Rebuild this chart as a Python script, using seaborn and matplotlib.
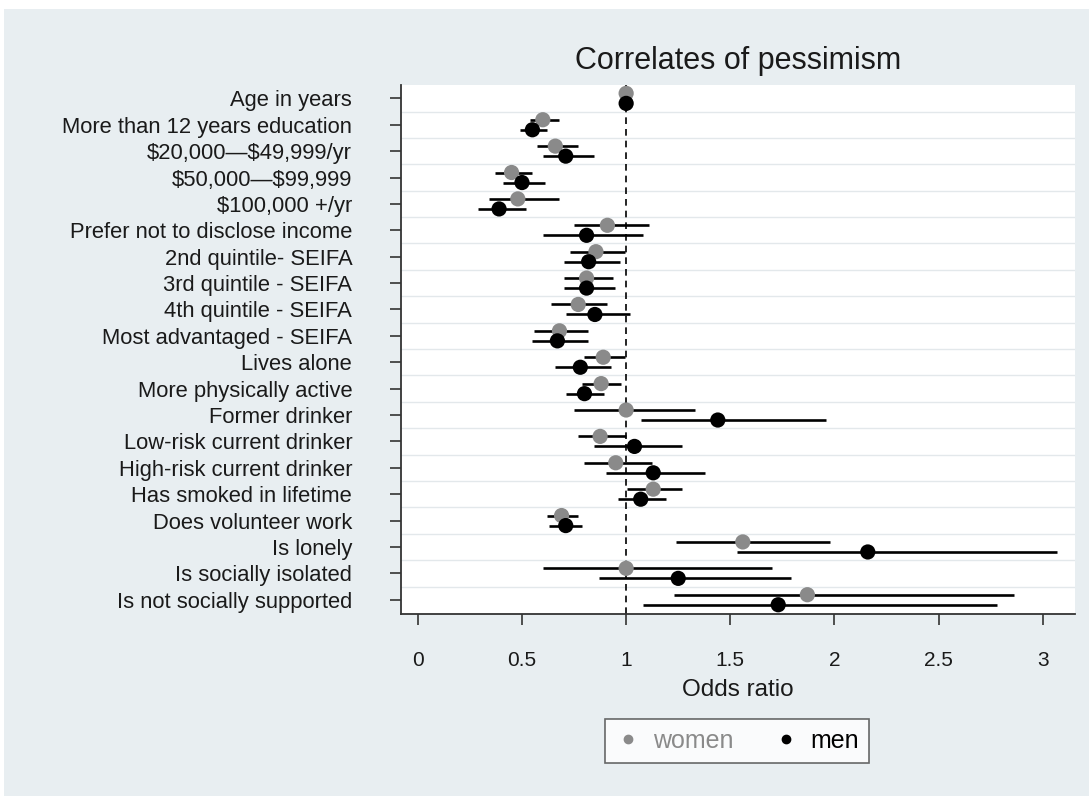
import matplotlib
matplotlib.use("Agg")

import numpy as np
import pandas as pd
import matplotlib.pyplot as plt
import seaborn as sns
from matplotlib.lines import Line2D
from matplotlib.patches import Rectangle

# -----------------------------
# Data
# -----------------------------

labels = [
    "Age in years",
    "More than 12 years education",
    "\\$20,000\u2014\\$49,999/yr",
    "\\$50,000\u2014\\$99,999",
    "\\$100,000 +/yr",
    "Prefer not to disclose income",
    "2nd quintile- SEIFA",
    "3rd quintile - SEIFA",
    "4th quintile - SEIFA",
    "Most advantaged - SEIFA",
    "Lives alone",
    "More physically active",
    "Former drinker",
    "Low-risk current drinker",
    "High-risk current drinker",
    "Has smoked in lifetime",
    "Does volunteer work",
    "Is lonely",
    "Is socially isolated",
    "Is not socially supported",
]

women_or = [1.00, 0.60, 0.66, 0.45, 0.48, 0.91, 0.855, 0.81, 0.77, 0.68,
            0.89, 0.88, 1.00, 0.875, 0.95, 1.13, 0.69, 1.56, 1.00, 1.87]
women_lo = [0.99, 0.54, 0.57, 0.37, 0.34, 0.75, 0.73, 0.70, 0.64, 0.56,
            0.80, 0.79, 0.75, 0.77, 0.80, 1.005, 0.62, 1.24, 0.60, 1.23]
women_hi = [1.01, 0.68, 0.77, 0.55, 0.68, 1.11, 0.995, 0.935, 0.91, 0.815,
            0.995, 0.975, 1.33, 1.00, 1.125, 1.27, 0.77, 1.98, 1.70, 2.86]

men_or = [1.00, 0.55, 0.71, 0.50, 0.39, 0.81, 0.82, 0.81, 0.85, 0.67,
          0.78, 0.80, 1.44, 1.04, 1.13, 1.07, 0.71, 2.16, 1.25, 1.73]
men_lo = [0.99, 0.49, 0.60, 0.41, 0.29, 0.60, 0.70, 0.70, 0.71, 0.55,
          0.66, 0.71, 1.07, 0.845, 0.905, 0.96, 0.63, 1.53, 0.87, 1.08]
men_hi = [1.01, 0.62, 0.845, 0.61, 0.52, 1.08, 0.97, 0.945, 1.02, 0.815,
          0.925, 0.895, 1.96, 1.27, 1.38, 1.19, 0.79, 3.07, 1.79, 2.78]

x_ticks = [0, 0.5, 1, 1.5, 2, 2.5, 3]
x_ticklabels = ["0", "0.5", "1", "1.5", "2", "2.5", "3"]

# -----------------------------
# Long-form table
# -----------------------------

rows = np.arange(len(labels))
offset = 0.19

df = pd.concat([
    pd.DataFrame({"row": rows - offset, "or": women_or, "lo": women_lo,
                  "hi": women_hi, "sex": "women"}),
    pd.DataFrame({"row": rows + offset, "or": men_or, "lo": men_lo,
                  "hi": men_hi, "sex": "men"}),
], ignore_index=True)

# -----------------------------
# Plot
# -----------------------------

sns.set_theme(style="white")
plt.rcParams["font.family"] = ["Liberation Sans", "DejaVu Sans"]

bg = "#e8eef1"
ink = "#1a1a1a"
colors = {"women": "#8a8a8a", "men": "#000000"}

fig = plt.figure(figsize=(10.89, 7.96), dpi=100, facecolor="white")
fig.patches.append(Rectangle((0.004, -0.01), 1.0, 0.999,
                             transform=fig.transFigure, facecolor=bg,
                             edgecolor="none", zorder=-10))
ax = fig.add_axes([0.368, 0.229, 0.619, 0.664])
ax.set_facecolor("white")

# gridlines between rows
for g in np.arange(len(labels) - 1) + 0.5:
    ax.axhline(g, color="#e3e8eb", lw=1.0, zorder=0)

ax.axvline(1, color="black", lw=1.2, ls=(0, (4, 3)), zorder=1)

# confidence intervals
ax.hlines(df["row"], df["lo"], df["hi"], colors="black", lw=1.9, zorder=2)

# point estimates
sns.scatterplot(data=df, x="or", y="row", hue="sex", palette=colors,
                s=120, edgecolor="none", legend=False, zorder=3, ax=ax)

ax.set_xlim(-0.082, 3.154)
ax.set_ylim(len(labels) - 0.47, -0.5)

ax.set_yticks(rows)
ax.set_yticklabels(labels, fontsize=15.8, color=ink)
ax.set_xticks(x_ticks)
ax.set_xticklabels(x_ticklabels, fontsize=15, color=ink)

ax.tick_params(axis="y", direction="out", length=8, width=1.2,
               color="#333333", pad=27, left=True)
ax.tick_params(axis="x", direction="out", length=8, width=1.2,
               color="#333333", pad=19, bottom=True)

for side in ["top", "right"]:
    ax.spines[side].set_visible(False)
for side in ["left", "bottom"]:
    ax.spines[side].set_color("#333333")
    ax.spines[side].set_linewidth(1.3)

ax.set_xlabel("Odds ratio", fontsize=17.5, color=ink, labelpad=6)
ax.set_ylabel("")
ax.set_title("Correlates of pessimism", fontsize=22, color=ink, pad=12)

handles = [
    Line2D([], [], marker="o", ls="none", color=colors["women"], markersize=6),
    Line2D([], [], marker="o", ls="none", color=colors["men"], markersize=6),
]
leg = fig.legend(handles, ["women", "men"], loc="center",
                 bbox_to_anchor=(0.677, 0.069), ncol=2, fontsize=18,
                 frameon=True, fancybox=False, edgecolor="#444444",
                 handletextpad=0.5, columnspacing=1.6, handlelength=1.0,
                 borderpad=0.4)
leg.get_frame().set_linewidth(1.2)
for txt, c in zip(leg.get_texts(), [colors["women"], colors["men"]]):
    txt.set_color(c)

fig.savefig("out.png", dpi=100, facecolor=fig.get_facecolor())
plt.close(fig)
